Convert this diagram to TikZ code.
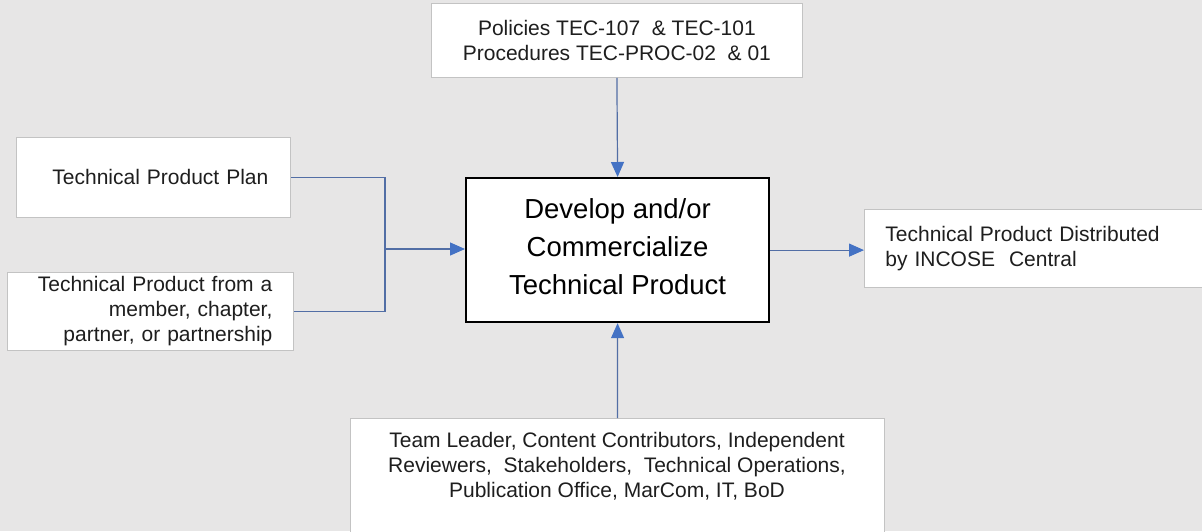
\documentclass[tikz,border=0pt]{standalone}
\usepackage{fontspec}
\setmainfont{Liberation Sans}
\usetikzlibrary{arrows.meta}
\definecolor{bgc}{RGB}{231,230,230}
\definecolor{boxline}{RGB}{195,195,195}
\definecolor{conn}{RGB}{82,110,165}
\definecolor{tipc}{RGB}{68,114,196}
\definecolor{txt}{RGB}{30,30,30}
\begin{document}
\begin{tikzpicture}[x=1pt,y=-1pt,
  box/.style={draw=boxline, fill=white, line width=0.8pt, inner sep=0pt, text=txt,
    font=\fontsize{21}{25}\selectfont},
  mainbox/.style={draw=black, fill=white, line width=2.2pt, inner sep=0pt, align=center,
    font=\fontsize{27.5}{38}\selectfont},
  conline/.style={draw=conn, line width=1.2pt},
  arr/.style={conline, -{Triangle[length=15pt,width=13pt,fill=tipc,color=tipc]}}
]
\useasboundingbox (0,0) rectangle (1202,531);
\fill[bgc] (0,0) rectangle (1202,531);

% boxes
\node[box, anchor=north west, minimum width=371pt, minimum height=74pt, align=center] (pol) at (431,3)
  {Policies TEC-107\ \ \& TEC-101\\Procedures TEC-PROC-02\ \ \& 01};
\node[box, anchor=north west, inner xsep=22pt, text width=230pt, minimum height=80pt, align=right] (plan) at (16,137)
  {Technical Product Plan};
\node[box, anchor=north west, inner xsep=21pt, text width=244pt, minimum height=78pt, align=right] (member) at (7,272)
  {Technical Product from a\\member,\ chapter,\\partner,\ or partnership};
\node[mainbox, anchor=north west, minimum width=303pt, minimum height=144pt] (dev) at (465,177)
  {Develop and/or\\Commercialize\\Technical Product\\[-30pt]\mbox{}};
\node[box, anchor=north west, inner xsep=21pt, text width=320pt, minimum height=78pt, align=left] (dist) at (864,209)
  {Technical Product Distributed\\by INCOSE\ \ Central};
\node[box, anchor=north west, minimum width=534pt, minimum height=140pt] (team) at (350,418) {};
\node[anchor=north, inner sep=0pt, align=center, text=txt, font=\fontsize{21}{25}\selectfont] (teamtext) at (617,432)
  {Team Leader,\ Content Contributors,\ Independent\\Reviewers,\ \ Stakeholders,\ \ Technical Operations,\\Publication Office,\ MarCom,\ IT,\ BoD};

% connectors
\coordinate (j) at (385,249);
\draw[conline] (plan.east) -| (j);
\draw[conline] (member.east) -| (j);
\draw[arr] (j) -- (j -| dev.west);
\draw[arr] (pol.south) -- (dev.north);
\draw[arr] (team.north) -- (dev.south);
\draw[arr] (dev.east) -- (dev.east -| dist.west);
\end{tikzpicture}
\end{document}
